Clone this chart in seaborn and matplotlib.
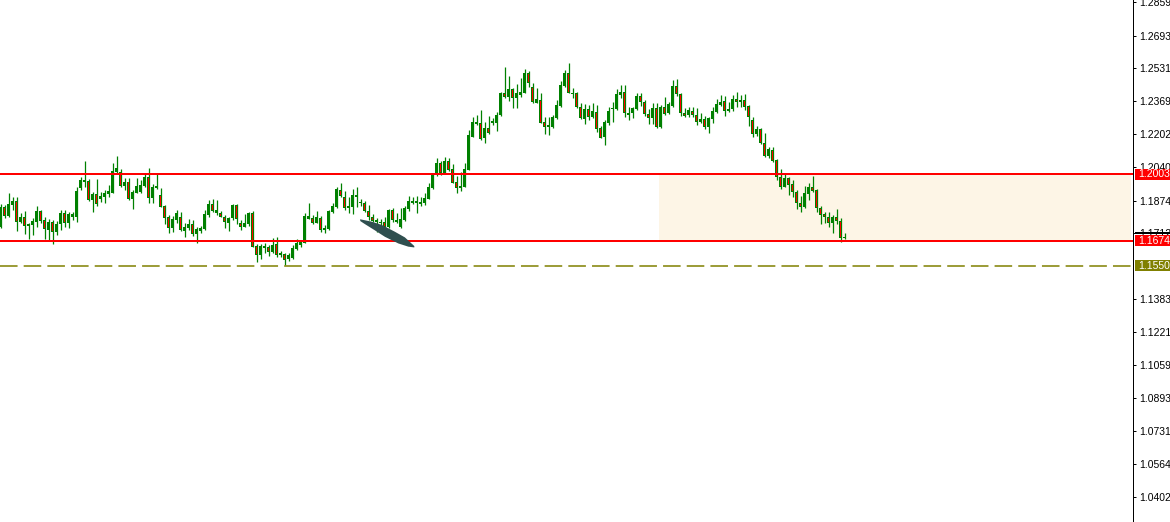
import numpy as np
import pandas as pd
import matplotlib
matplotlib.use("Agg")
import matplotlib.pyplot as plt
import matplotlib.transforms as mtransforms
from matplotlib.patches import Rectangle, Polygon
import seaborn as sns

# OHLC candles (left to right)
opens = [
    1.1744, 1.1840, 1.1799, 1.1852, 1.1872, 1.1769, 1.1794, 1.1749, 1.1753, 1.1769,
    1.1822, 1.1777, 1.1728, 1.1767, 1.1719, 1.1757, 1.1811, 1.1761, 1.1794, 1.1794,
    1.1938, 1.1968, 1.1971, 1.1877, 1.1906, 1.1880, 1.1893, 1.1906, 1.1913, 1.2017,
    1.2014, 1.1948, 1.1968, 1.1883, 1.1913, 1.1918, 1.1948, 1.1989, 1.1888, 1.1946,
    1.1901, 1.1847, 1.1794, 1.1739, 1.1777, 1.1794, 1.1724, 1.1739, 1.1757, 1.1706,
    1.1723, 1.1733, 1.1802, 1.1857, 1.1814, 1.1814, 1.1794, 1.1764, 1.1786, 1.1852,
    1.1761, 1.1744, 1.1757, 1.1814, 1.1648, 1.1604, 1.1640, 1.1643, 1.1620, 1.1658,
    1.1604, 1.1609, 1.1582, 1.1590, 1.1633, 1.1653, 1.1665, 1.1784, 1.1787, 1.1764,
    1.1786, 1.1728, 1.1731, 1.1819, 1.1843, 1.1926, 1.1893, 1.1835, 1.1843, 1.1893,
    1.1860, 1.1863, 1.1822, 1.1791, 1.1769, 1.1764, 1.1769, 1.1741, 1.1827, 1.1777,
    1.1741, 1.1777, 1.1830, 1.1863, 1.1872, 1.1855, 1.1860, 1.1882, 1.1935, 1.2001,
    1.2062, 1.2012, 1.2070, 1.2029, 1.1966, 1.1935, 1.1943, 1.2026, 1.2191, 1.2254,
    1.2260, 1.2183, 1.2233, 1.2257, 1.2257, 1.2299, 1.2406, 1.2389, 1.2428, 1.2381,
    1.2399, 1.2409, 1.2509, 1.2436, 1.2360, 1.2373, 1.2264, 1.2240, 1.2240, 1.2285,
    1.2345, 1.2443, 1.2506, 1.2409, 1.2409, 1.2340, 1.2279, 1.2328, 1.2290, 1.2312,
    1.2236, 1.2191, 1.2257, 1.2328, 1.2328, 1.2399, 1.2411, 1.2299, 1.2307, 1.2328,
    1.2393, 1.2365, 1.2302, 1.2285, 1.2332, 1.2240, 1.2337, 1.2307, 1.2345, 1.2443,
    1.2401, 1.2307, 1.2299, 1.2318, 1.2299, 1.2262, 1.2279, 1.2238, 1.2279, 1.2315,
    1.2348, 1.2368, 1.2320, 1.2328, 1.2376, 1.2365, 1.2373, 1.2343, 1.2274, 1.2204,
    1.2228, 1.2158, 1.2095, 1.2125, 1.2075, 1.1992, 1.1943, 1.1987, 1.1955, 1.1918,
    1.1863, 1.1843, 1.1906, 1.1943, 1.1926, 1.1835, 1.1807, 1.1791, 1.1764, 1.1791,
    1.1774, 1.1690,
]
highs = [
    1.1857, 1.1852, 1.1913, 1.1893, 1.1893, 1.1814, 1.1824, 1.1764, 1.1786, 1.1847,
    1.1827, 1.1794, 1.1781, 1.1777, 1.1772, 1.1827, 1.1827, 1.1819, 1.1819, 1.1943,
    1.1989, 1.2070, 1.1979, 1.1918, 1.1979, 1.1918, 1.1926, 1.1951, 1.2059, 1.2095,
    1.2031, 1.1984, 1.1984, 1.1926, 1.1984, 1.1976, 1.2009, 1.2034, 1.1956, 1.2006,
    1.1935, 1.1852, 1.1802, 1.1797, 1.1827, 1.1819, 1.1761, 1.1781, 1.1777, 1.1741,
    1.1748, 1.1827, 1.1877, 1.1880, 1.1877, 1.1822, 1.1802, 1.1794, 1.1857, 1.1857,
    1.1777, 1.1806, 1.1819, 1.1822, 1.1658, 1.1658, 1.1662, 1.1653, 1.1687, 1.1694,
    1.1623, 1.1615, 1.1612, 1.1653, 1.1682, 1.1678, 1.1811, 1.1863, 1.1804, 1.1822,
    1.1797, 1.1753, 1.1827, 1.1860, 1.1943, 1.1963, 1.1923, 1.1890, 1.1930, 1.1943,
    1.1880, 1.1873, 1.1852, 1.1807, 1.1786, 1.1781, 1.1791, 1.1832, 1.1835, 1.1814,
    1.1835, 1.1848, 1.1896, 1.1893, 1.1896, 1.1893, 1.1910, 1.1960, 1.2009, 1.2084,
    1.2072, 1.2089, 1.2084, 1.2055, 1.1996, 1.2017, 1.2059, 1.2224, 1.2290, 1.2299,
    1.2323, 1.2265, 1.2294, 1.2282, 1.2315, 1.2414, 1.2538, 1.2492, 1.2434, 1.2452,
    1.2481, 1.2525, 1.2518, 1.2459, 1.2431, 1.2409, 1.2290, 1.2290, 1.2299, 1.2373,
    1.2469, 1.2522, 1.2555, 1.2431, 1.2414, 1.2357, 1.2353, 1.2348, 1.2357, 1.2348,
    1.2244, 1.2274, 1.2340, 1.2365, 1.2426, 1.2448, 1.2448, 1.2337, 1.2340, 1.2406,
    1.2406, 1.2373, 1.2327, 1.2357, 1.2357, 1.2348, 1.2386, 1.2365, 1.2472, 1.2476,
    1.2406, 1.2335, 1.2337, 1.2340, 1.2332, 1.2310, 1.2294, 1.2290, 1.2337, 1.2376,
    1.2398, 1.2393, 1.2365, 1.2398, 1.2411, 1.2398, 1.2401, 1.2348, 1.2287, 1.2244,
    1.2236, 1.2208, 1.2141, 1.2141, 1.2079, 1.2029, 1.2006, 1.1992, 1.1976, 1.1926,
    1.1896, 1.1946, 1.1960, 1.1996, 1.1930, 1.1847, 1.1819, 1.1819, 1.1802, 1.1830,
    1.1786, 1.1711,
]
lows = [
    1.1738, 1.1786, 1.1794, 1.1827, 1.1724, 1.1764, 1.1708, 1.1685, 1.1703, 1.1744,
    1.1764, 1.1685, 1.1678, 1.1660, 1.1703, 1.1728, 1.1741, 1.1739, 1.1777, 1.1769,
    1.1926, 1.1943, 1.1874, 1.1819, 1.1848, 1.1867, 1.1860, 1.1893, 1.1911, 1.2009,
    1.1943, 1.1926, 1.1877, 1.1832, 1.1910, 1.1910, 1.1943, 1.1860, 1.1860, 1.1931,
    1.1840, 1.1757, 1.1714, 1.1719, 1.1764, 1.1723, 1.1694, 1.1728, 1.1698, 1.1665,
    1.1714, 1.1728, 1.1794, 1.1819, 1.1802, 1.1791, 1.1736, 1.1724, 1.1777, 1.1757,
    1.1728, 1.1741, 1.1748, 1.1643, 1.1570, 1.1582, 1.1615, 1.1599, 1.1615, 1.1595,
    1.1595, 1.1554, 1.1575, 1.1582, 1.1628, 1.1645, 1.1662, 1.1781, 1.1757, 1.1761,
    1.1719, 1.1711, 1.1728, 1.1811, 1.1835, 1.1893, 1.1827, 1.1814, 1.1807, 1.1843,
    1.1847, 1.1819, 1.1777, 1.1769, 1.1719, 1.1753, 1.1728, 1.1736, 1.1769, 1.1761,
    1.1736, 1.1774, 1.1824, 1.1857, 1.1814, 1.1847, 1.1852, 1.1880, 1.1930, 1.1996,
    1.2001, 1.2009, 1.2021, 1.1960, 1.1913, 1.1923, 1.1940, 1.2024, 1.2188, 1.2249,
    1.2174, 1.2161, 1.2204, 1.2249, 1.2221, 1.2294, 1.2381, 1.2370, 1.2335, 1.2332,
    1.2386, 1.2406, 1.2439, 1.2357, 1.2357, 1.2257, 1.2204, 1.2199, 1.2233, 1.2277,
    1.2340, 1.2439, 1.2406, 1.2381, 1.2332, 1.2277, 1.2254, 1.2274, 1.2285, 1.2216,
    1.2183, 1.2150, 1.2249, 1.2265, 1.2323, 1.2381, 1.2290, 1.2274, 1.2282, 1.2323,
    1.2343, 1.2295, 1.2254, 1.2254, 1.2236, 1.2236, 1.2299, 1.2302, 1.2340, 1.2393,
    1.2294, 1.2290, 1.2290, 1.2290, 1.2249, 1.2257, 1.2228, 1.2211, 1.2257, 1.2310,
    1.2343, 1.2295, 1.2315, 1.2320, 1.2337, 1.2337, 1.2323, 1.2244, 1.2191, 1.2194,
    1.2153, 1.2092, 1.2084, 1.2067, 1.1976, 1.1930, 1.1940, 1.1901, 1.1893, 1.1830,
    1.1819, 1.1835, 1.1877, 1.1918, 1.1819, 1.1757, 1.1764, 1.1741, 1.1711, 1.1757,
    1.1670, 1.1682,
]
closes = [
    1.1843, 1.1799, 1.1857, 1.1872, 1.1769, 1.1794, 1.1749, 1.1759, 1.1772, 1.1822,
    1.1774, 1.1731, 1.1767, 1.1719, 1.1757, 1.1811, 1.1761, 1.1807, 1.1807, 1.1921,
    1.1976, 1.1976, 1.1877, 1.1906, 1.1855, 1.1896, 1.1913, 1.1920, 1.2021, 1.2034,
    1.1948, 1.1968, 1.1883, 1.1918, 1.1946, 1.1951, 1.1989, 1.1888, 1.1940, 1.1938,
    1.1843, 1.1789, 1.1739, 1.1782, 1.1811, 1.1728, 1.1741, 1.1757, 1.1706, 1.1733,
    1.1736, 1.1807, 1.1857, 1.1824, 1.1827, 1.1794, 1.1766, 1.1786, 1.1852, 1.1781,
    1.1744, 1.1761, 1.1814, 1.1645, 1.1604, 1.1648, 1.1648, 1.1620, 1.1653, 1.1604,
    1.1615, 1.1579, 1.1602, 1.1640, 1.1665, 1.1670, 1.1797, 1.1797, 1.1764, 1.1791,
    1.1728, 1.1738, 1.1822, 1.1847, 1.1930, 1.1896, 1.1835, 1.1847, 1.1901, 1.1901,
    1.1865, 1.1824, 1.1791, 1.1774, 1.1777, 1.1769, 1.1741, 1.1827, 1.1777, 1.1769,
    1.1781, 1.1835, 1.1872, 1.1872, 1.1860, 1.1868, 1.1885, 1.1943, 1.2001, 1.2059,
    1.2009, 1.2070, 1.2026, 1.1963, 1.1935, 1.1948, 1.2031, 1.2199, 1.2262, 1.2265,
    1.2179, 1.2236, 1.2211, 1.2270, 1.2299, 1.2409, 1.2389, 1.2428, 1.2381, 1.2406,
    1.2413, 1.2506, 1.2456, 1.2365, 1.2376, 1.2260, 1.2240, 1.2249, 1.2287, 1.2348,
    1.2448, 1.2509, 1.2409, 1.2401, 1.2337, 1.2282, 1.2328, 1.2290, 1.2318, 1.2229,
    1.2186, 1.2262, 1.2318, 1.2335, 1.2403, 1.2413, 1.2307, 1.2310, 1.2332, 1.2393,
    1.2365, 1.2302, 1.2285, 1.2332, 1.2240, 1.2337, 1.2302, 1.2352, 1.2443, 1.2401,
    1.2307, 1.2295, 1.2323, 1.2299, 1.2265, 1.2277, 1.2238, 1.2282, 1.2318, 1.2353,
    1.2365, 1.2320, 1.2328, 1.2376, 1.2365, 1.2373, 1.2340, 1.2287, 1.2204, 1.2228,
    1.2158, 1.2095, 1.2128, 1.2072, 1.1989, 1.1943, 1.1987, 1.1951, 1.1918, 1.1860,
    1.1843, 1.1910, 1.1943, 1.1923, 1.1835, 1.1802, 1.1791, 1.1764, 1.1791, 1.1774,
    1.1690, 1.1693,
]

# horizontal levels and zone
resistance = 1.20034
support = 1.16742
target = 1.15506
current_price = 1.17143
zone_start, zone_end = 164.6, 282.6

# right price scale
tick_values = [1.28595, 1.26930, 1.25310, 1.23690, 1.22025, 1.20405, 1.18740,
               1.17120, 1.13835, 1.12215, 1.10595, 1.08930, 1.07310, 1.05645, 1.04025]
tick_labels = ["%.5f" % v for v in tick_values]

# hand-drawn marker on the chart (bar index, price)
marker_shape = [(89.9, 1.1781), (92.8, 1.1769), (95.3, 1.1753), (98.6, 1.1719),
                (101.1, 1.1691), (103.45, 1.1648), (103.45, 1.1641), (101.95, 1.1645),
                (99.45, 1.1661), (96.1, 1.1694), (93.2, 1.1731), (91.1, 1.1757),
                (89.95, 1.1772)]

df = pd.DataFrame({"open": opens, "high": highs, "low": lows, "close": closes})
df["bar"] = np.arange(len(df))
df["body_lo"] = df[["open", "close"]].min(axis=1)
df["body_h"] = (df["close"] - df["open"]).abs().clip(lower=0.0005)
bear = df[df["close"] < df["open"]]

GREEN = "#008000"

sns.set_theme(style="white")
plt.rcParams["font.family"] = ["Liberation Sans", "DejaVu Sans"]

fig = plt.figure(figsize=(11.7, 5.22), dpi=100)
ax = fig.add_axes([0, 0, 1133 / 1170, 1])

ax.fill_between([zone_start, zone_end], support, resistance, color="#FDF5E6",
                linewidth=0, zorder=1)

# wicks, bodies, and the red core of bearish bodies
ax.vlines(df["bar"], df["low"], df["high"], color=GREEN, linewidth=0.9, zorder=3)
ax.bar(df["bar"], df["body_h"], bottom=df["body_lo"], width=0.85, color=GREEN,
       linewidth=0, zorder=3)
inner_h = (bear["body_h"] - 0.0009).clip(lower=0)
ax.bar(bear["bar"], inner_h, bottom=bear["body_lo"] + 0.00045, width=0.2,
       color="#FF0000", linewidth=0, zorder=3.1)

ax.axhline(resistance, color="#FF0000", linewidth=1.44, zorder=4)
ax.axhline(support, color="#FF0000", linewidth=1.44, zorder=4)
ax.axhline(target, color="#808000", linewidth=1.1, dashes=(11.5, 4), zorder=4)

ax.add_patch(Polygon(marker_shape, closed=True, facecolor="#2F4F4F",
                     edgecolor="none", zorder=6))

ax.set_xlim(-0.125, 283.125)
ax.set_ylim(1.02782, 1.28694)

ax.yaxis.tick_right()
ax.set_yticks(tick_values)
ax.set_yticklabels(tick_labels)
ax.tick_params(axis="y", right=True, left=False, length=2, width=0.72, color="black",
               pad=2.5, labelsize=7.5, labelcolor="black")
ax.tick_params(axis="x", bottom=False, labelbottom=False)
ax.grid(False)
for side in ["top", "left", "bottom"]:
    ax.spines[side].set_visible(False)
ax.spines["right"].set_color("black")
ax.spines["right"].set_linewidth(0.72)

# price tags on the scale
trans = mtransforms.blended_transform_factory(ax.transAxes, ax.transData)
box_x = 1 + 2 / 1133
txt_x = 1 + 5 / 1133
ax.add_patch(Rectangle((box_x, current_price - 0.0005), 40 / 1133, 0.001,
                       transform=trans, facecolor="black", edgecolor="none",
                       clip_on=False, zorder=7))
for price, colour in [(resistance, "#FF0000"), (support, "#FF0000"), (target, "#808000")]:
    ax.add_patch(Rectangle((box_x, price - 0.0027), 40 / 1133, 0.0054, transform=trans,
                           facecolor=colour, edgecolor="none", clip_on=False, zorder=8))
    ax.text(txt_x, price, "%.5f" % price, transform=trans, color="white", fontsize=7.5,
            va="center", ha="left", clip_on=False, zorder=9)

fig.savefig("out.png", dpi=100)
